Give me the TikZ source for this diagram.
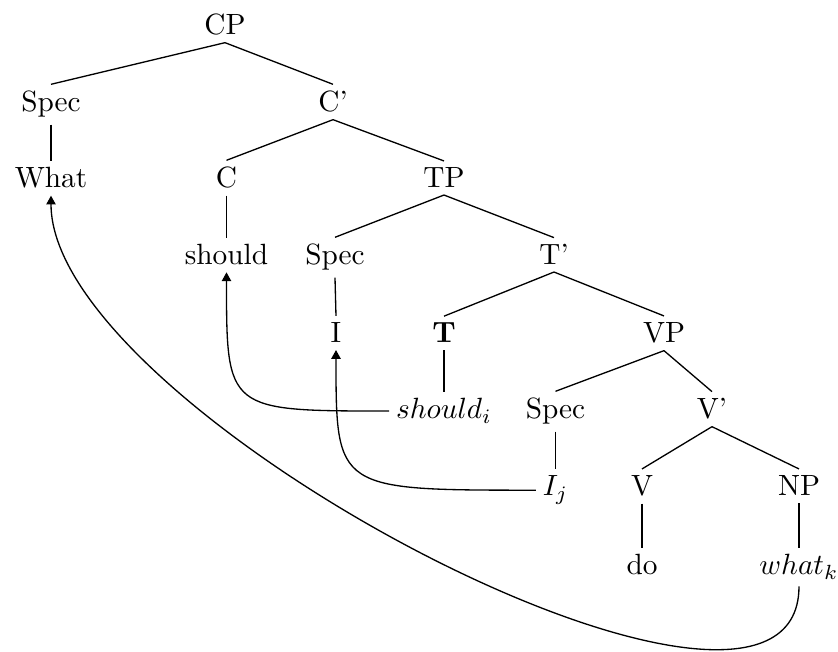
\documentclass[tikz,border=0pt]{standalone}
\usetikzlibrary{arrows.meta}
\begin{document}
\begin{tikzpicture}[x=0.3413pt,y=-0.3413pt,
  tn/.style={anchor=base,inner sep=2.2pt},
  br/.style={line width=0.45pt},
  mv/.style={line width=0.45pt,-{Triangle[length=3pt,width=3.2pt]}}]
\useasboundingbox (0,0) rectangle (838,652);
% row 0
\node[tn] (CP) at (225,35) {CP};
% row 1
\node[tn] (SpecA) at (51,112) {Spec};
\node[tn] (Cb) at (333,112) {C'};
% row 2
\node[tn] (What) at (51,188) {What};
\node[tn] (C) at (226.5,188) {C};
\node[tn] (TP) at (444,188) {TP};
% row 3
\node[tn] (should) at (226.5,265) {should};
\node[tn] (SpecB) at (335,265) {Spec};
\node[tn] (Tb) at (554,265) {T'};
% row 4
\node[tn] (I) at (336,343) {I};
\node[tn] (T) at (444,343) {\textbf{T}};
\node[tn] (VP) at (664,343) {VP};
% row 5
\node[tn] (shouldi) at (444,419) {$should_i$};
\node[tn] (SpecC) at (555.5,419) {Spec};
\node[tn] (Vb) at (712,419) {V'};
% row 6
\node[tn] (Ij) at (555.5,496) {$I_j$};
\node[tn] (V) at (642,496) {V};
\node[tn] (NP) at (799,496) {NP};
% row 7
\node[tn] (do) at (642,575) {do};
\node[tn] (whatk) at (799,575) {$what_k$};
% branches
\draw[br] (CP.south) -- (SpecA.north);
\draw[br] (CP.south) -- (Cb.north);
\draw[br] (SpecA.south) -- (What.north);
\draw[br] (Cb.south) -- (C.north);
\draw[br] (Cb.south) -- (TP.north);
\draw[br] (C.south) -- (should.north);
\draw[br] (TP.south) -- (SpecB.north);
\draw[br] (TP.south) -- (Tb.north);
\draw[br] (SpecB.south) -- (I.north);
\draw[br] (Tb.south) -- (T.north);
\draw[br] (Tb.south) -- (VP.north);
\draw[br] (T.south) -- (shouldi.north);
\draw[br] (VP.south) -- (SpecC.north);
\draw[br] (VP.south) -- (Vb.north);
\draw[br] (SpecC.south) -- (Ij.north);
\draw[br] (Vb.south) -- (V.north);
\draw[br] (Vb.south) -- (NP.north);
\draw[br] (V.south) -- (do.north);
\draw[br] (NP.south) -- (whatk.north);
% movement arrows
\draw[mv] (shouldi.west) .. controls (should.south |- shouldi.west) .. (should.south);
\draw[mv] (Ij.west) .. controls (I.south |- Ij.west) .. (I.south);
\draw[mv] (whatk.south) .. controls (799,802) and (51,415) .. (What.south);
\end{tikzpicture}
\end{document}
